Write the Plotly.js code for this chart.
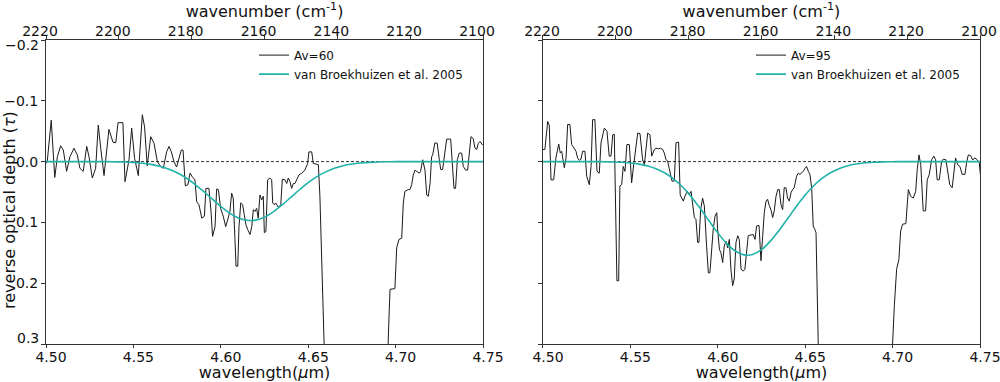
<!DOCTYPE html>
<html>
<head>
<meta charset="utf-8">
<script src="https://cdn.plot.ly/plotly-3.0.1.min.js"></script>
<style>
html,body{margin:0;padding:0;background:#fff;}
#chart{width:1000px;height:382px;}
</style>
</head>
<body>
<div id="chart"></div>
<script>
// ---------- Data ----------
const leftLabel = "Av=60";
const rightLabel = "Av=95";
const modelLabel = "van Broekhuizen et al. 2005";

const wavelengthTicks = [4.50, 4.55, 4.60, 4.65, 4.70, 4.75];
const wavenumberTicks = [2220, 2200, 2180, 2160, 2140, 2120, 2100];
const tauTicks = [-0.2, -0.1, 0.0, 0.1, 0.2, 0.3];

// observed spectrum, Av=60
const leftWl = [
4.5000,4.5007,4.5030,4.5050,4.5065,4.5084,4.5099,4.5118,4.5137,4.5160,
4.5179,4.5194,4.5213,4.5233,4.5246,4.5265,4.5284,4.5299,4.5313,4.5332,
4.5360,4.5383,4.5399,4.5412,4.5440,4.5452,4.5475,4.5490,4.5507,4.5528,
4.5551,4.5564,4.5579,4.5599,4.5618,4.5637,4.5656,4.5671,4.5690,4.5704,
4.5717,4.5732,4.5747,4.5761,4.5774,4.5784,4.5797,4.5812,4.5824,4.5837,
4.5852,4.5862,4.5875,4.5891,4.5906,4.5915,4.5932,4.5944,4.5953,4.5967,
4.5976,4.5986,4.5999,4.6014,4.6028,4.6039,4.6052,4.6062,4.6071,4.6081,
4.6087,4.6097,4.6104,4.6114,4.6125,4.6134,4.6144,4.6154,4.6167,4.6177,
4.6186,4.6195,4.6205,4.6214,4.6224,4.6234,4.6243,4.6249,4.6258,4.6268,
4.6281,4.6291,4.6297,4.6306,4.6314,4.6329,4.6343,4.6352,4.6367,4.6377,
4.6386,4.6396,4.6405,4.6415,4.6424,4.6434,4.6447,4.6463,4.6472,4.6481,
4.6497,4.6504,4.6520,4.6529,4.6543,4.6558,4.6567,4.6577,4.6583,4.6600,
4.6650,4.6900,4.6945,4.6958,4.6968,4.6996,4.7006,4.7019,4.7035,4.7044,
4.7053,4.7072,4.7082,4.7092,4.7101,4.7111,4.7124,4.7135,4.7143,4.7155,
4.7168,4.7178,4.7187,4.7197,4.7206,4.7212,4.7225,4.7238,4.7250,4.7258,
4.7269,4.7277,4.7292,4.7315,4.7324,4.7334,4.7343,4.7353,4.7364,4.7378,
4.7387,4.7401,4.7412,4.7421,4.7431,4.7444,4.7454,4.7464,4.7473,4.7483,
4.7498];
const leftTau = [
0.003,0.000,-0.068,0.026,-0.008,-0.026,-0.019,0.016,-0.008,-0.022,
-0.011,0.011,0.016,-0.025,-0.008,0.027,0.011,-0.060,-0.022,0.023,
-0.053,-0.032,-0.031,-0.064,-0.064,0.033,-0.003,-0.055,-0.005,0.023,
-0.077,-0.057,0.007,-0.041,-0.030,0.000,0.008,0.011,-0.016,-0.025,
-0.016,0.000,0.009,-0.005,-0.019,-0.019,0.040,0.038,0.019,0.025,
0.030,0.066,0.071,0.093,0.090,0.044,0.044,0.082,0.123,0.107,
0.045,0.046,0.077,0.090,0.107,0.096,0.082,0.052,0.060,0.128,
0.172,0.172,0.107,0.068,0.071,0.087,0.104,0.112,0.120,0.107,
0.079,0.082,0.077,0.093,0.055,0.063,0.057,0.117,0.115,0.030,
0.027,0.030,0.068,0.071,0.068,0.075,0.071,0.029,0.030,0.036,
0.027,0.033,0.044,0.036,0.036,0.030,0.022,0.019,0.016,0.014,
0.003,-0.016,-0.016,0.003,0.004,0.005,0.057,0.139,0.178,0.450,
0.900,0.900,0.500,0.290,0.210,0.209,0.142,0.128,0.126,0.068,
0.049,0.046,0.046,0.038,0.022,0.014,0.016,0.019,0.016,-0.003,
0.014,0.055,0.057,0.036,-0.008,-0.011,-0.031,-0.030,-0.003,0.013,
0.013,-0.008,-0.037,-0.037,-0.003,0.044,0.044,-0.003,-0.014,-0.014,
0.008,0.014,0.014,-0.008,-0.041,-0.038,-0.022,-0.020,-0.030,-0.033,
-0.027];

// observed spectrum, Av=95
const rightWl = [
4.5000,4.5011,4.5027,4.5036,4.5046,4.5061,4.5074,4.5090,4.5099,4.5107,
4.5122,4.5132,4.5141,4.5154,4.5164,4.5179,4.5189,4.5198,4.5208,4.5217,
4.5227,4.5240,4.5250,4.5265,4.5275,4.5284,4.5297,4.5309,4.5322,4.5332,
4.5351,4.5366,4.5379,4.5389,4.5399,4.5408,4.5418,4.5423,4.5433,4.5440,
4.5450,4.5459,4.5469,4.5480,4.5494,4.5507,4.5519,4.5542,4.5555,4.5570,
4.5580,4.5599,4.5612,4.5622,4.5637,4.5646,4.5660,4.5671,4.5685,4.5694,
4.5704,4.5713,4.5722,4.5738,4.5751,4.5761,4.5776,4.5785,4.5803,4.5812,
4.5826,4.5837,4.5847,4.5856,4.5866,4.5875,4.5885,4.5892,4.5902,4.5913,
4.5923,4.5936,4.5946,4.5955,4.5965,4.5974,4.5984,4.5994,4.5999,4.6009,
4.6018,4.6028,4.6037,4.6047,4.6057,4.6066,4.6075,4.6085,4.6094,4.6104,
4.6114,4.6123,4.6133,4.6146,4.6155,4.6165,4.6174,4.6184,4.6194,4.6203,
4.6213,4.6222,4.6236,4.6247,4.6257,4.6266,4.6276,4.6285,4.6294,4.6304,
4.6314,4.6323,4.6333,4.6343,4.6352,4.6361,4.6371,4.6380,4.6390,4.6399,
4.6409,4.6419,4.6428,4.6437,4.6451,4.6460,4.6470,4.6480,4.6489,4.6499,
4.6508,4.6518,4.6527,4.6537,4.6546,4.6556,4.6562,4.6578,4.6620,4.6950,
4.6995,4.7010,4.7023,4.7036,4.7046,4.7057,4.7076,4.7090,4.7103,4.7118,
4.7132,4.7141,4.7151,4.7161,4.7170,4.7175,4.7189,4.7198,4.7210,4.7223,
4.7236,4.7246,4.7255,4.7267,4.7280,4.7290,4.7305,4.7314,4.7327,4.7341,
4.7351,4.7360,4.7372,4.7385,4.7398,4.7414,4.7423,4.7433,4.7446,4.7458,
4.7471,4.7484,4.7496,4.7502];
const rightTau = [
-0.020,-0.020,-0.066,-0.060,0.030,0.030,-0.006,-0.029,-0.014,-0.017,
0.010,-0.006,-0.061,-0.061,-0.028,-0.022,-0.017,-0.006,-0.002,-0.004,
-0.017,-0.017,0.024,0.038,0.008,-0.069,-0.069,0.016,0.019,-0.031,
-0.055,-0.050,-0.009,-0.009,-0.044,-0.045,0.111,0.196,0.196,0.040,
0.038,0.008,0.016,-0.028,-0.028,0.035,0.005,-0.047,-0.046,-0.003,
0.005,-0.047,-0.044,-0.009,-0.020,-0.022,-0.021,-0.022,-0.020,-0.014,
-0.003,-0.001,0.011,0.032,0.032,-0.031,-0.032,0.055,0.065,0.057,
0.049,0.054,0.049,0.068,0.092,0.095,0.133,0.133,0.079,0.060,
0.073,0.139,0.183,0.183,0.139,0.111,0.090,0.084,0.111,0.144,
0.150,0.166,0.139,0.131,0.142,0.128,0.177,0.204,0.193,0.133,
0.122,0.128,0.177,0.180,0.177,0.150,0.122,0.121,0.120,0.120,
0.128,0.106,0.105,0.163,0.122,0.084,0.065,0.062,0.072,0.079,
0.092,0.081,0.057,0.046,0.046,0.070,0.079,0.043,0.043,0.060,
0.065,0.051,0.046,0.043,0.024,0.019,0.021,0.019,0.016,0.011,
0.008,0.016,0.021,0.043,0.106,0.112,0.117,0.350,0.800,0.800,
0.330,0.237,0.177,0.161,0.114,0.103,0.102,0.046,0.057,0.060,
0.049,0.013,-0.011,0.005,0.051,0.081,0.081,0.030,0.021,-0.003,
-0.009,-0.003,0.030,0.030,0.000,-0.004,-0.003,0.016,0.038,0.043,
0.013,-0.006,0.005,0.008,0.021,0.021,0.002,-0.011,-0.010,-0.003,
-0.006,-0.003,0.002,0.021];

// model profile (van Broekhuizen et al. 2005)
const modelWl = [
4.500,4.505,4.510,4.515,4.520,4.525,4.530,4.535,4.540,4.545,
4.550,4.555,4.560,4.565,4.570,4.575,4.580,4.585,4.590,4.595,
4.600,4.605,4.610,4.615,4.620,4.625,4.630,4.635,4.640,4.645,
4.650,4.655,4.660,4.665,4.670,4.675,4.680,4.685,4.690,4.695,
4.700,4.705,4.710,4.715,4.720,4.725,4.730,4.735,4.740,4.745,
4.750];
const leftModel = [
0,0,0,0,0,0,0,0.0001,0.0004,0.0007,
0.0014,0.0026,0.0045,0.0075,0.0120,0.0183,0.0266,0.0369,0.0487,0.0614,
0.0738,0.0847,0.0926,0.0966,0.0962,0.0913,0.0826,0.0714,0.0589,0.0463,
0.0346,0.0247,0.0169,0.0110,0.0068,0.0040,0.0023,0.0012,0.0006,0.0003,
0.0001,0,0,0,0,0,0,0,0,0,
0];
const rightModel = [
0,0,0,0,0,0,0,0.0002,0.0006,0.0011,
0.0022,0.0041,0.0071,0.0120,0.0191,0.0291,0.0422,0.0585,0.0773,0.0975,
0.1172,0.1344,0.1471,0.1534,0.1528,0.1449,0.1312,0.1133,0.0935,0.0735,
0.0550,0.0393,0.0268,0.0174,0.0108,0.0064,0.0036,0.0019,0.0010,0.0005,
0.0002,0,0,0,0,0,0,0,0,0,
0];

// ---------- Styling ----------
const FONT = "DejaVu Sans, Verdana, sans-serif";
const AX = "#333";
const TEAL = "#20b2aa";

const traces = [
  {x: leftWl, y: leftTau, xaxis: "x", yaxis: "y", mode: "lines", name: leftLabel,
   line: {color: "#1a1a1a", width: 1}, legend: "legend", hoverinfo: "skip"},
  {x: modelWl, y: leftModel, xaxis: "x", yaxis: "y", mode: "lines", name: modelLabel,
   line: {color: TEAL, width: 1.6, shape: "spline"}, legend: "legend", hoverinfo: "skip"},
  {x: rightWl, y: rightTau, xaxis: "x2", yaxis: "y2", mode: "lines", name: rightLabel,
   line: {color: "#1a1a1a", width: 1}, legend: "legend2", hoverinfo: "skip"},
  {x: modelWl, y: rightModel, xaxis: "x2", yaxis: "y2", mode: "lines", name: modelLabel,
   line: {color: TEAL, width: 1.6, shape: "spline"}, legend: "legend2", hoverinfo: "skip"},
  // carriers for the top wavenumber axes
  {x: wavenumberTicks, y: wavenumberTicks.map(() => 0), xaxis: "x3", yaxis: "y", mode: "lines",
   line: {width: 0}, opacity: 0, showlegend: false, hoverinfo: "skip"},
  {x: wavenumberTicks, y: wavenumberTicks.map(() => 0), xaxis: "x4", yaxis: "y2", mode: "lines",
   line: {width: 0}, opacity: 0, showlegend: false, hoverinfo: "skip"}
];

const tickFont = {family: FONT, size: 14, color: "#111"};
const titleFont = {family: FONT, size: 16, color: "#111"};

function xBottom(domain, anchor) {
  return {
    domain: domain, anchor: anchor, range: [4.5, 4.75], autorange: false,
    tickvals: wavelengthTicks, tickformat: ".2f", ticks: "outside", ticklen: 3, tickwidth: 1,
    tickcolor: AX, showline: true, linecolor: AX, linewidth: 1, showgrid: false, zeroline: false,
    tickfont: tickFont, ticklabelstandoff: -3, ticklabelshift: 5, ticklabeloverflow: "allow",
    title: {text: "wavelength(<i>\u03bc</i>m)", font: titleFont, standoff: 4}
  };
}
function xTop(overlay, anchor, shift) {
  return {
    overlaying: overlay, anchor: anchor, side: "top", range: [2220, 2100], autorange: false,
    tickvals: wavenumberTicks, ticks: "outside", ticklen: 4, tickwidth: 1, tickcolor: AX,
    showline: true, linecolor: AX, linewidth: 1, showgrid: false, zeroline: false,
    tickfont: tickFont, ticklabelstandoff: -7, ticklabelshift: shift, ticklabeloverflow: "allow",
    title: {text: "wavenumber (cm<sup>-1</sup>)", font: titleFont, standoff: 9}
  };
}
function fmtTau(v) { return (v < 0 ? "\u2212" : "") + Math.abs(v).toFixed(1); }
function yAxis(anchor, labels) {
  const ends = [0, tauTicks.length - 1];
  return {
    anchor: anchor, domain: [0, 1], range: [0.3, -0.2], autorange: false,
    tickvals: tauTicks,
    ticktext: tauTicks.map((v, i) => ends.includes(i) ? "" : fmtTau(v)),
    ticks: "outside", ticklen: 4, tickwidth: 1,
    tickcolor: AX, showline: true, mirror: true, linecolor: AX, linewidth: 1,
    showgrid: false, zeroline: false, tickfont: tickFont, showticklabels: labels
  };
}

const legendBase = {
  font: {family: FONT, size: 12, color: "#111"}, bgcolor: "rgba(0,0,0,0)", borderwidth: 0,
  xanchor: "left", yanchor: "top", yref: "paper", xref: "paper", itemwidth: 30, tracegroupgap: 0
};

const layout = {
  width: 1000, height: 382,
  margin: {l: 46, r: 20, t: 40, b: 38},
  paper_bgcolor: "#fff", plot_bgcolor: "#fff",
  font: {family: FONT, color: "#111"},
  xaxis: xBottom([0, 0.4679], "y"),
  xaxis2: xBottom([0.5321, 1], "y2"),
  xaxis3: xTop("x", "y", 6),
  xaxis4: xTop("x2", "y2", 1),
  yaxis: yAxis("x", true),
  yaxis2: yAxis("x2", false),
  legend: Object.assign({}, legendBase, {x: 0.2227, y: 0.998}),
  legend2: Object.assign({}, legendBase, {x: 0.7548, y: 0.998}),
  annotations: [
    {text: "reverse optical depth (<i>\u03c4</i>)", textangle: -90, showarrow: false,
     xref: "paper", yref: "paper", x: -0.0385, y: 0.441, xanchor: "center", yanchor: "middle",
     font: titleFont},
    // end labels of the optical depth axis, nudged inward as in the original figure
    {text: fmtTau(tauTicks[0]), showarrow: false, xref: "paper", yref: "y",
     x: 0, y: tauTicks[0], xanchor: "right", yanchor: "middle", xshift: -5, yshift: -5,
     font: tickFont},
    {text: fmtTau(tauTicks[tauTicks.length - 1]), showarrow: false, xref: "paper", yref: "y",
     x: 0, y: tauTicks[tauTicks.length - 1], xanchor: "right", yanchor: "middle", xshift: -5, yshift: 6,
     font: tickFont}
  ],
  shapes: [
    {type: "line", xref: "x domain", yref: "y", x0: 0, x1: 1, y0: 0, y1: 0, layer: "below",
     line: {color: "#333", width: 1, dash: "3px,2px"}},
    {type: "line", xref: "x2 domain", yref: "y2", x0: 0, x1: 1, y0: 0, y1: 0, layer: "below",
     line: {color: "#333", width: 1, dash: "3px,2px"}}
  ],
  showlegend: true
};

Plotly.newPlot("chart", traces, layout, {staticPlot: true, displayModeBar: false});
</script>
</body>
</html>
